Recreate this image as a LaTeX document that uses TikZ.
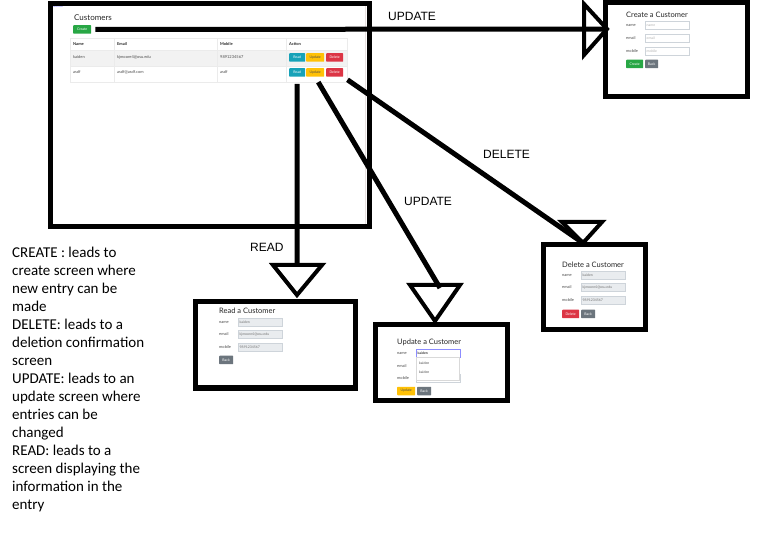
\documentclass[tikz,border=0pt]{standalone}
\usepackage{fontspec}
\setmainfont{Carlito}
\newfontfamily\labelfont{Liberation Sans}
\newfontfamily\shotfont{Lato}
\usetikzlibrary{positioning}

\definecolor{bsgreen}{HTML}{28A745}
\definecolor{bsteal}{HTML}{17A2B8}
\definecolor{bsyellow}{HTML}{FFC107}
\definecolor{bsred}{HTML}{DC3545}
\definecolor{bsgray}{HTML}{6C757D}
\definecolor{bsfield}{HTML}{E9ECEF}
\definecolor{bsborder}{HTML}{CED4DA}

\tikzset{
  frame/.style={draw, line width=5pt, anchor=north west, inner sep=0pt, outer sep=0pt},
  thickline/.style={line width=5pt},
  tri/.style={line width=4pt, line join=miter},
  arrowlabel/.style={font=\labelfont\fontsize{12}{14}\selectfont, anchor=west, inner sep=0pt},
  title/.style={font=\shotfont\fontsize{7.5}{8}\selectfont, text=black!85, anchor=west, inner sep=0pt},
  shot/.style={font=\shotfont\fontsize{4}{5}\selectfont, text=black!70, anchor=west, inner sep=0pt},
  head/.style={shot, font=\shotfont\bfseries\fontsize{4}{5}\selectfont, text=black!85},
  btn/.style={font=\shotfont\fontsize{3.5}{4}\selectfont, text=white, anchor=west, inner sep=0pt,
              minimum height=8.5pt, rounded corners=0.6pt},
  field/.style={draw=bsborder, fill=bsfield, line width=0.4pt, anchor=west, inner sep=1.5pt,
                minimum height=8pt, text width=41pt, align=left,
                font=\shotfont\fontsize{3.5}{4}\selectfont, text=black!55},
  emptyfield/.style={field, fill=white, text=black!30}
}

\begin{document}
\begin{tikzpicture}[x=1pt,y=-1pt]
\useasboundingbox (0,0) rectangle (758,537);
\fill[white] (0,0) rectangle (758,537);

% customers screenshot
\node[shot, font=\shotfont\fontsize{3}{4}\selectfont, text=blue!60] (github) at (53,6) {GitHub};
\draw[pink!40!gray!30, line width=0.6pt] (365,5) -- (365,226);
\fill[black!5] (70,50) rectangle (347,66);
\draw[black!8, line width=0.4pt] (70,38) rectangle (347,82);
\foreach \ypos in {50,66}
  \draw[black!8, line width=0.4pt] (70,\ypos) -- (347,\ypos);
\foreach \xpos in {114,217,286}
  \draw[black!8, line width=0.4pt] (\xpos,38) -- (\xpos,82);
\node[title, font=\shotfont\fontsize{8}{9}\selectfont] (custtitle) at (74,18) {Customers};
\node[btn, fill=bsgreen, minimum width=18pt] (createbtn) at (73,29.5) {Create};
\node[head] (hname) at (73,44) {Name};
\node[head] (hemail) at (117,44) {Email};
\node[head] (hmobile) at (220,44) {Mobile};
\node[head] (haction) at (289,44) {Action};
\node[shot] (name1) at (73,57.5) {kaiden};
\node[shot] (email1) at (117,57.5) {kjmoore4@osu.edu};
\node[shot] (mobile1) at (220,57.5) {9891234567};
\node[shot] (name2) at (73,72.5) {asdf};
\node[shot] (email2) at (117,72.5) {asdf@asdf.com};
\node[shot] (mobile2) at (220,72.5) {asdf};
\foreach \ypos/\row in {57.5/1,72.5/2} {
  \node[btn, fill=bsteal, minimum width=16pt] (readbtn\row) at (289,\ypos) {Read};
  \node[btn, fill=bsyellow, text=black!70, minimum width=18pt] (updbtn\row) at (306,\ypos) {Update};
  \node[btn, fill=bsred, minimum width=17pt] (delbtn\row) at (326,\ypos) {Delete};
}

% create screenshot
\node[title] (crtitle) at (626,15) {Create a Customer};
\node[shot] (crname) at (626,25.5) {name};
\node[emptyfield] (crnamef) at (645,25.5) {name};
\node[shot] (cremail) at (626,38.5) {email};
\node[emptyfield] (cremailf) at (645,38.5) {email};
\node[shot] (crmobile) at (626,51) {mobile};
\node[emptyfield] (crmobilef) at (645,51) {mobile};
\node[btn, fill=bsgreen, minimum width=17pt] (crbtn) at (626,64) {Create};
\node[btn, fill=bsgray, minimum width=13pt] (crback) at (645,64) {Back};

% read screenshot
\node[title] (rdtitle) at (219,311) {Read a Customer};
\node[shot] (rdname) at (219,322) {name};
\node[field] (rdnamef) at (238,322) {kaiden};
\node[shot] (rdemail) at (219,334.5) {email};
\node[field] (rdemailf) at (238,334.5) {kjmoore4@osu.edu};
\node[shot] (rdmobile) at (219,347) {mobile};
\node[field] (rdmobilef) at (238,347) {9891234567};
\node[btn, fill=bsgray, minimum width=14pt] (rdback) at (219,360) {Back};

% update screenshot
\node[title] (uptitle) at (397,342) {Update a Customer};
\node[shot] (upname) at (397,353) {name};
\node[shot] (upemail) at (397,366) {email};
\node[shot] (upmobile) at (397,378.5) {mobile};
\node[field, fill=white] (upmobilef) at (416,378.5) {};
\node[field, fill=white, draw=blue!45, text=black] (upnamef) at (416,353) {kaiden};
\draw[black!15, fill=white, line width=0.4pt] (416,357.5) rectangle (459,380);
\node[shot, font=\shotfont\fontsize{3.5}{4}\selectfont] (upopt1) at (419,363) {kaiden};
\node[shot, font=\shotfont\fontsize{3.5}{4}\selectfont] (upopt2) at (419,372) {kaiden};
\node[btn, fill=bsyellow, text=black!70, minimum width=18pt] (upbtn) at (397,391) {Update};
\node[btn, fill=bsgray, minimum width=14pt] (upback) at (417,391) {Back};

% delete screenshot
\node[title] (dltitle) at (562,265) {Delete a Customer};
\node[shot] (dlname) at (562,275.5) {name};
\node[field] (dlnamef) at (581,275.5) {kaiden};
\node[shot] (dlemail) at (562,287.5) {email};
\node[field] (dlemailf) at (581,287.5) {kjmoore4@osu.edu};
\node[shot] (dlmobile) at (562,300) {mobile};
\node[field] (dlmobilef) at (581,300) {9891234567};
\node[btn, fill=bsred, minimum width=17pt] (dlbtn) at (562,314) {Delete};
\node[btn, fill=bsgray, minimum width=14pt] (dlback) at (581,314) {Back};

% hand drawn frames
\node[frame, minimum width=319pt, minimum height=223pt] (mainbox) at (50,4) {};
\node[frame, minimum width=142pt, minimum height=94pt] (createbox) at (605,3) {};
\node[frame, minimum width=160pt, minimum height=86pt] (readbox) at (195,302) {};
\node[frame, minimum width=132pt, minimum height=75pt] (updatebox) at (375,325) {};
\node[frame, minimum width=102pt, minimum height=85pt] (deletebox) at (543,245) {};

% triangle heads
\coordinate (crtip) at (607,29);
\coordinate (rdtip) at (297,265);
\coordinate (uptip) at (440,288);
\coordinate (dltip) at (583,243);
\draw[tri] (584,4) -- (crtip) -- (584,55) -- cycle;
\draw[tri] (273,265) -- (322,265) -- (297,295) -- cycle;
\draw[tri] (410,285) -- (460,285) -- (435,321) -- cycle;
\draw[tri] (562,222) -- (602,222) -- (dltip) -- cycle;

% connectors
\draw[thickline, shorten <=4pt] (createbtn.east) -- (crtip);
\draw[thickline, shorten <=7pt] (readbtn2.south) -- (rdtip);
\draw[thickline, shorten <=6pt] (updbtn2.south) -- (uptip);
\draw[thickline, shorten <=5pt] (delbtn2.south east) -- (dltip);

\node[arrowlabel] (lbcreate) at (388,16) {UPDATE};
\node[arrowlabel] (lbdelete) at (483,154) {DELETE};
\node[arrowlabel] (lbupdate) at (404,201) {UPDATE};
\node[arrowlabel] (lbread) at (250,247) {READ};

\node[anchor=north west, inner sep=0pt, align=left, font=\fontsize{15}{18}\selectfont] (legend) at (12,247)
  {CREATE : leads to\\ create screen where\\ new entry can be\\ made\\
   DELETE: leads to a\\ deletion confirmation\\ screen\\
   UPDATE: leads to an\\ update screen where\\ entries can be\\ changed\\
   READ: leads to a\\ screen displaying the\\ information in the\\ entry};
\end{tikzpicture}
\end{document}
